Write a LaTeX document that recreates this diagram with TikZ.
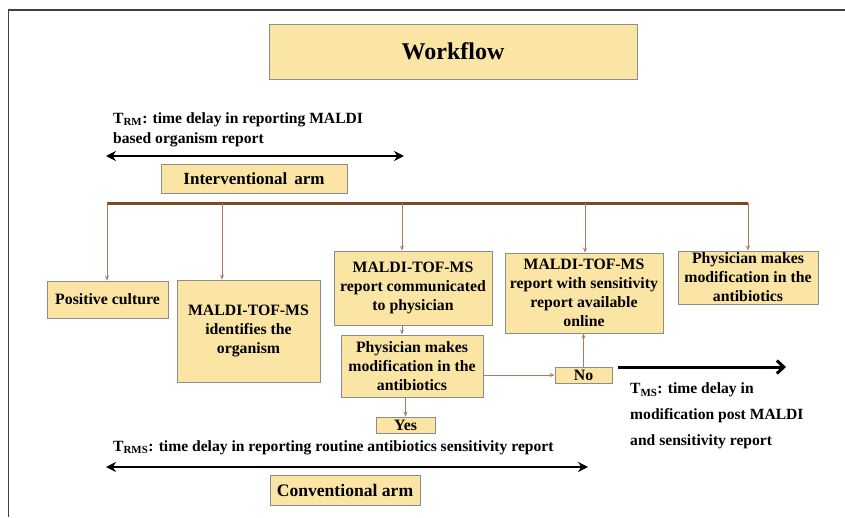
\documentclass[tikz,border=0pt]{standalone}
\usepackage{fontspec}
\setmainfont{Liberation Serif}
\usepackage{xcolor}
\usetikzlibrary{arrows.meta}
\usetikzlibrary{calc}

\definecolor{boxfill}{RGB}{250,229,165}
\definecolor{boxline}{RGB}{140,140,140}
\definecolor{barbrown}{RGB}{125,72,38}
\definecolor{flowbrown}{RGB}{168,124,96}

\begin{document}
\begin{tikzpicture}[x=1pt,y=-1pt]
\tikzstyle{box}=[rectangle, draw=boxline, line width=0.9pt, fill=boxfill, align=center, font=\fontsize{15.8}{19}\selectfont\bfseries, inner sep=1pt]
\tikzstyle{flow}=[-{Stealth[length=5pt,width=4pt]}, draw=flowbrown, line width=0.8pt]
\tikzstyle{span}=[{Stealth[length=10pt,width=10pt]}-{Stealth[length=10pt,width=10pt]}, line width=2.6pt]
\tikzstyle{note}=[align=left, anchor=west, inner sep=0pt, font=\fontsize{15.6}{20}\selectfont\bfseries]

	\useasboundingbox (0,0) rectangle (845,517);
	%frame
	\draw[line width=1.6pt, color=black!75] (8.5,517) -- (8.5,10) -- (845,10);

	%boxes
	\node[box, minimum width=368, minimum height=55, font=\fontsize{24}{28}\selectfont\bfseries] (title) at (453,51.5) {Workflow};
	\node[box, minimum width=186, minimum height=29, font=\fontsize{17}{20}\selectfont\bfseries] (interv) at (254,178.5) {Interventional\hspace{7pt}arm};
	\node[box, minimum width=121, minimum height=37] (positive) at (107.5,299.5) {Positive culture};
	\node[box, minimum width=143, minimum height=102] (identifies) at (248.5,331) {MALDI-TOF-MS\\identifies the\\organism};
	\node[box, minimum width=158, minimum height=74] (communicated) at (413,288) {MALDI-TOF-MS\\report communicated\\to physician};
	\node[box, minimum width=142, minimum height=62] (modifies) at (412,366) {Physician makes\\modification in the\\antibiotics};
	\node[box, minimum width=59, minimum height=16, inner sep=0pt] (yes) at (405.5,425) {Yes};
	\node[box, minimum width=57, minimum height=16, inner sep=0pt] (no) at (583.5,375) {No};
	\node[box, minimum width=158, minimum height=80] (online) at (584,293) {MALDI-TOF-MS\\report with sensitivity\\report available\\online};
	\node[box, minimum width=140, minimum height=53] (modifies_late) at (748,277.5) {Physician makes\\modification in the\\antibiotics};
	\node[box, minimum width=150, minimum height=30, font=\fontsize{17.6}{20}\selectfont\bfseries] (conv) at (345,490) {Conventional arm};

	%notes
	\node[note] (t_rm) at (113,130) {T\textsubscript{RM}: time delay in reporting MALDI\\based organism report};
	\node[note] (t_rms) at (113,448) {T\textsubscript{RMS}: time delay in reporting routine antibiotics sensitivity report};
	\node[note, font=\fontsize{15.6}{26}\selectfont\bfseries] (t_ms) at (630,416) {T\textsubscript{MS}: time delay in\\modification post MALDI\\and sensitivity report};

	%bar
	\coordinate (bar1) at (107,203);
	\coordinate (bar2) at (222,203);
	\coordinate (bar3) at (402,203);
	\coordinate (bar4) at (585,203);
	\coordinate (bar5) at (748,203);
	\draw[draw=barbrown, line width=3pt] (bar1) -- (bar5);

	%paths
	\draw[flow] (bar1) -- (bar1 |- positive.north);
	\draw[flow] (bar2) -- (bar2 |- identifies.north);
	\draw[flow] (bar3) -- (bar3 |- communicated.north);
	\draw[flow] (bar4) -- (bar4 |- online.north);
	\draw[flow] (bar5) -- (bar5 |- modifies_late.north);
	\draw[flow] (bar3 |- communicated.south) -- (bar3 |- modifies.north);
	\draw[flow] (yes.north |- modifies.south) -- (yes.north);
	\draw[flow] (modifies.east |- no.west) -- (no.west);
	\draw[flow] (no.north) -- (no.north |- online.south);

	%time spans
	\coordinate (rm_start) at (106,156);
	\coordinate (rm_end) at (404,156);
	\coordinate (rms_start) at (106,467);
	\coordinate (rms_end) at (588,467);
	\coordinate (ms_start) at (618,367);
	\coordinate (ms_end) at (786,367);
	\draw[span] (rm_start) -- (rm_end);
	\draw[span] (rms_start) -- (rms_end);
	\draw[-{Straight Barb[length=7pt,width=13pt]}, line width=3pt] (ms_start) -- (ms_end);

\end{tikzpicture}
\end{document}
